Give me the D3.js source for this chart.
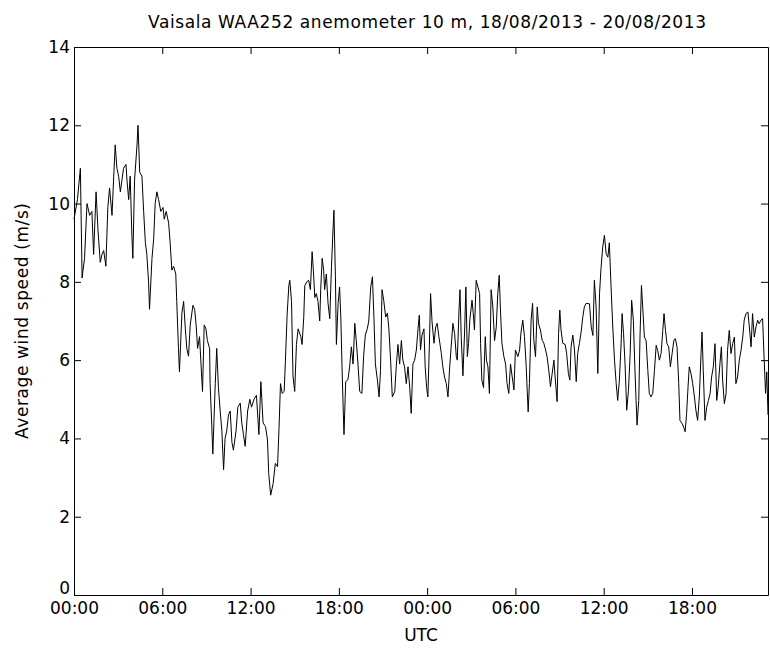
<!DOCTYPE html>
<html>
<head>
<meta charset="utf-8">
<script src="https://cdn.jsdelivr.net/npm/d3@7"></script>
<style>
  html, body { margin: 0; padding: 0; background: #fff; }
  svg { display: block; }
  text { font-family: "DejaVu Sans", sans-serif; fill: #000; }
</style>
</head>
<body>
<svg id="chart" width="770" height="652"></svg>
<script>
// Vaisala WAA252 cup anemometer at 10 m: average wind speed (m/s)
// Sample times are minutes after 18/08/2013 00:00 UTC.
const minutes = [
  0,14,26,33,43,53,64,73,80,90,98,107,114,121,130,138,145,155,162,168,
  175,182,189,202,212,216,223,229,236,240,247,257,261,268,277,284,291,297,304,308,
  318,325,331,338,345,354,363,368,376,386,392,399,406,415,419,426,430,440,447,454,
  460,467,474,485,492,498,504,512,517,524,531,538,544,553,555,562,566,576,582,589,
  596,603,610,616,623,630,637,644,650,661,668,678,684,691,698,708,
  717,724,734,744,754,762,771,781,789,794,802,812,821,830,836,842,849,857,862,869,
  876,880,887,893,900,907,914,925,930,937,941,949,957,964,971,976,982,988,995,1002,
  1006,1012,1018,1022,1029,1036,1043,1050,1056,1060,1066,1070,1077,1083,1088,1093,1098,1101,1108,1117,
  1124,1131,1138,1145,1151,1158,1165,1174,1181,1188,1196,1202,1210,1217,1223,1229,1237,1244,1250,1256,
  1263,1271,1278,1284,1291,1298,1308,1314,1321,1328,1335,1341,1348,1355,1362,1369,1375,1382,
  1389,1396,1403,1408,1413,1419,1427,1432,1438,1443,1449,1454,1460,1468,1475,1481,1488,1498,1504,1511,
  1518,1525,1532,1538,1545,1552,1559,1563,1570,1574,1579,1586,1593,1598,1604,1609,1614,1623,1628,1633,
  1640,1647,1654,1658,1663,1670,1677,1682,1688,1694,1701,1708,1715,1722,1728,1734,1739,1745,1753,1760,
  1766,1773,1780,1787,1794,1800,1810,1817,1823,1830,1837,1844,1848,1852,1857,1864,1870,1875,1882,1889,
  1894,1902,1909,1916,1923,1929,1936,1943,1948,1957,1963,1970,1976,1981,1986,1993,2003,2009,2016,2022,
  2027,2034,2041,2048,2054,2061,2068,2075,2081,2088,
  2102,2109,2116,2122,2129,2136,2143,2149,2156,2163,2170,2177,2183,2190,2197,2204,2211,2217,2224,2231,
  2235,2241,2247,2254,2261,2268,2274,2281,2287,2292,2296,2303,2308,2314,2319,2326,2333,2340,2346,2353,
  2360,2367,2374,2380,2387,2394,2401,2406,2412,2418,2425,2432,2439,2446,2452,2459,2466,2471,2480,2486,
  2492,2498,2504,2509,2516,2523,2530,2536,2543,2550,2557,2561,2566,2573,2580,2587,2594,2600,2607,2614,
  2621,2627,2634,2640,2645,2652,2659,2665,2672,2679,2686,2693,2699,2706,2713,2720,2727,2733,2740,2748,
  2754,2761,2767,2774,2781,2788,2794,2801,2808,2814,2820,2825,2830
];

const speed = [
  9.6,10.1,10.9,8.1,8.6,10.0,9.7,9.8,8.7,10.3,9.3,8.5,8.7,8.8,8.4,9.9,10.4,9.7,10.7,11.5,
  10.9,10.7,10.3,10.9,11.0,10.6,10.1,10.7,9.2,8.6,10.6,11.5,12.0,10.8,10.7,9.8,9.0,8.7,8.0,7.3,
  8.6,9.1,10.0,10.3,10.1,9.8,9.9,9.6,9.8,9.5,9.0,8.3,8.4,8.2,7.5,6.3,5.7,7.2,7.5,6.8,
  6.3,6.1,6.9,7.4,7.3,6.9,6.3,6.6,6.0,5.2,6.9,6.8,6.5,6.3,5.4,4.3,3.6,5.4,6.3,5.3,
  4.7,4.2,3.2,4.0,4.2,4.6,4.7,3.9,3.7,4.2,4.8,4.9,4.4,4.1,3.8,4.7,
  5.0,4.8,5.0,5.1,4.1,5.45,4.4,4.3,3.96,3.1,2.55,2.85,3.36,3.28,4.25,5.4,5.15,5.2,5.96,7.15,
  7.9,8.04,7.5,5.6,5.2,6.4,6.8,6.6,6.4,7.1,7.9,8.0,8.04,7.8,8.77,8.3,7.6,7.7,7.5,7.0,
  7.8,8.6,8.3,7.8,8.2,7.45,7.06,8.4,9.3,9.83,8.13,6.4,7.45,7.87,7.1,5.83,4.7,4.1,5.45,5.5,
  5.83,6.34,5.9,6.94,6.5,5.9,5.2,5.15,6.1,6.64,6.8,7.0,7.87,8.13,7.1,5.9,5.5,5.06,5.74,7.8,
  7.53,7.1,7.2,6.8,6.0,5.06,5.2,5.83,6.4,5.9,6.5,6.0,5.83,5.4,5.83,5.3,4.64,5.9,
  6.0,6.26,6.8,7.15,6.26,6.64,6.8,5.83,5.3,5.06,6.34,7.7,6.98,6.43,6.85,6.94,6.6,6.17,5.83,5.57,
  5.4,5.06,5.83,6.34,6.94,6.68,6.09,6.0,7.28,7.8,6.6,5.6,6.77,7.87,6.09,6.43,7.02,7.53,7.2,6.77,
  8.04,7.87,7.7,6.43,5.49,5.3,6.6,6.0,5.83,5.15,7.8,7.36,6.5,6.85,7.7,8.17,7.28,6.43,6.09,5.9,
  5.4,5.15,5.9,5.57,5.24,6.26,6.09,6.26,6.72,7.02,6.6,5.83,5.24,4.68,5.4,7.02,7.45,6.51,6.09,7.36,
  6.94,6.77,6.51,6.43,6.26,6.09,5.75,5.32,5.57,6.0,5.49,4.94,6.68,7.28,6.77,6.43,6.4,6.17,5.66,5.49,
  6.34,6.64,6.26,5.45,6.17,6.43,6.72,7.11,7.36,7.45,
  7.44,6.85,6.63,8.04,7.36,5.66,7.7,8.34,8.89,9.19,8.72,8.63,9.0,7.87,6.85,6.0,5.4,4.97,5.49,6.42,
  7.19,6.68,5.91,4.72,5.23,6.17,7.53,7.02,5.83,4.97,4.34,4.97,6.59,7.91,7.36,6.59,6.5,5.74,5.15,5.06,
  5.15,5.74,6.38,6.25,6.0,6.17,6.76,7.19,6.76,6.42,6.34,5.83,6.17,6.5,6.55,6.34,5.4,4.46,4.38,4.29,
  4.17,4.63,5.32,5.83,5.66,5.4,5.06,4.72,4.46,5.06,6.17,6.72,5.74,4.46,4.8,4.97,5.15,5.57,5.83,6.42,
  4.97,5.32,5.91,6.34,5.49,4.89,5.15,6.25,6.76,6.17,6.42,6.59,5.4,5.57,6.0,6.25,6.59,7.02,7.19,7.23,
  6.85,6.34,7.19,6.59,6.85,7.02,6.93,7.02,7.06,6.08,5.15,5.7,4.6
];

const timeTicks = [0, 360, 720, 1080, 1440, 1800, 2160, 2520];
const timeTickLabels = ["00:00", "06:00", "12:00", "18:00", "00:00", "06:00", "12:00", "18:00"];
const speedTicks = [0, 2, 4, 6, 8, 10, 12, 14];

const titleText = "Vaisala WAA252 anemometer 10 m, 18/08/2013 - 20/08/2013";
const xLabelText = "UTC";
const yLabelText = "Average wind speed (m/s)";

// ---- layout ----
const svg = d3.select("#chart");
const margin = { left: 74, right: 2, top: 47, bottom: 57 };
const W = 770, H = 652;
const plotW = W - margin.left - margin.right;
const plotH = H - margin.top - margin.bottom;
const fontSize = 17;

const x = d3.scaleLinear().domain([0, 2830]).range([0, plotW]);
const y = d3.scaleLinear().domain([0, 14]).range([plotH, 0]);

const g = svg.append("g").attr("transform", `translate(${margin.left},${margin.top})`);

const series = d3.zip(minutes, speed);

// wind speed trace
g.append("path")
  .datum(series)
  .attr("fill", "none")
  .attr("stroke", "#000")
  .attr("stroke-width", 1)
  .attr("d", d3.line().x(d => x(d[0])).y(d => y(d[1])));

// axes: ticks point inward on all four sides
const tickLen = 7;
const fmtTime = (d) => timeTickLabels[timeTicks.indexOf(d)];

const xBottom = d3.axisBottom(x).tickValues(timeTicks).tickFormat(fmtTime)
  .tickSizeInner(-tickLen).tickSizeOuter(0).tickPadding(7);
const xTop = d3.axisTop(x).tickValues(timeTicks).tickFormat("")
  .tickSizeInner(-tickLen).tickSizeOuter(0);
const yLeft = d3.axisLeft(y).tickValues(speedTicks).tickFormat(d3.format("d"))
  .tickSizeInner(-tickLen).tickSizeOuter(0).tickPadding(4);
const yRight = d3.axisRight(y).tickValues(speedTicks).tickFormat("")
  .tickSizeInner(-tickLen).tickSizeOuter(0);

function styleAxis(sel) {
  sel.select(".domain").attr("stroke", "#000").attr("stroke-width", 1);
  sel.selectAll(".tick line").attr("stroke", "#000").attr("stroke-width", 1);
  sel.selectAll(".tick text")
    .attr("font-family", "DejaVu Sans, sans-serif")
    .attr("font-size", fontSize)
    .attr("fill", "#000");
}

g.append("g").attr("transform", `translate(0,${plotH})`).call(xBottom).call(styleAxis);
g.append("g").call(xTop).call(styleAxis);
g.append("g").call(yLeft).call(styleAxis)
  .selectAll(".tick text")
  // the label at the corner sits a little higher so it clears the time labels
  .attr("dy", d => d === 0 ? "-0.1em" : "0.32em");
g.append("g").attr("transform", `translate(${plotW},0)`).call(yRight).call(styleAxis);

// title and axis labels
svg.append("text")
  .attr("x", 427)
  .attr("y", 28)
  .attr("text-anchor", "middle")
  .attr("font-size", fontSize)
  .attr("textLength", 558)
  .attr("lengthAdjust", "spacing")
  .text(titleText);

svg.append("text")
  .attr("x", margin.left + plotW / 2)
  .attr("y", 641)
  .attr("text-anchor", "middle")
  .attr("font-size", fontSize)
  .text(xLabelText);

svg.append("text")
  .attr("transform", `translate(28,${margin.top + plotH / 2}) rotate(-90)`)
  .attr("text-anchor", "middle")
  .attr("font-size", fontSize)
  .attr("textLength", 236)
  .attr("lengthAdjust", "spacing")
  .text(yLabelText);
</script>
</body>
</html>
